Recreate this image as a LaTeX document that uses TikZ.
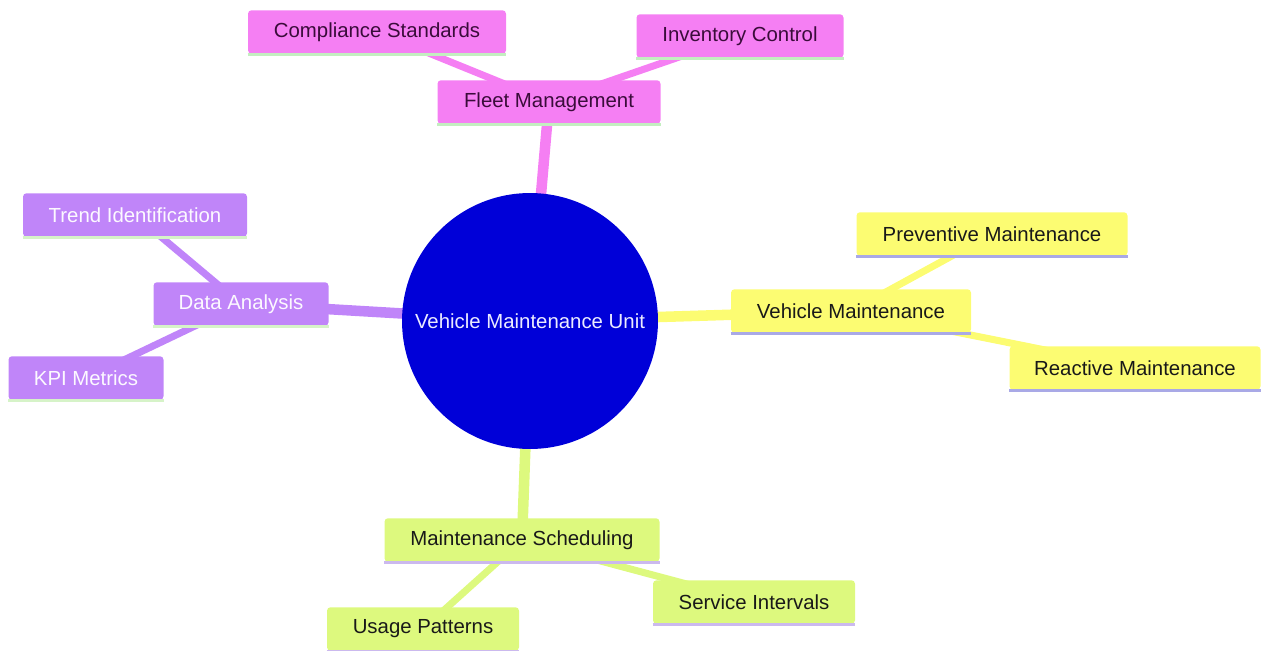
\documentclass[tikz,border=0pt]{standalone}
\usepackage{fontspec}
\setmainfont{Liberation Sans}
\usetikzlibrary{backgrounds}
\definecolor{fleetPink}{HTML}{F57FF3}
\definecolor{fleetText}{HTML}{3A0C3A}
\definecolor{fleetLine}{HTML}{C3EEC0}
\definecolor{vehYellow}{HTML}{FCFC72}
\definecolor{vehLine}{HTML}{A9A9E6}
\definecolor{schedGreen}{HTML}{DDF97E}
\definecolor{schedLine}{HTML}{CBB9EE}
\definecolor{dataPurple}{HTML}{C085F9}
\definecolor{dataLine}{HTML}{D6F3C8}
\definecolor{rootBlue}{HTML}{0000D8}

\begin{document}
\begin{tikzpicture}[x=0.02cm, y=-0.02cm, font=\fontsize{11.6}{14}\selectfont,
	box/.style={rectangle, rounded corners=2pt, inner xsep=0pt, minimum height=0.87cm},
	pinkbox/.style={box, fill=fleetPink, text=fleetText},
	yellowbox/.style={box, fill=vehYellow, text=black!90},
	greenbox/.style={box, fill=schedGreen, text=black!90},
	purplebox/.style={box, fill=dataPurple, text=white!95!dataPurple}]
	\useasboundingbox (0,0) rectangle (1261,650);
	
	\node[circle, fill=rootBlue, text=white!92!blue, minimum size=5.12cm, inner sep=0pt] (root) at (530,321) {Vehicle Maintenance Unit};
	
	\foreach \name/\x/\y/\w/\txt in {fleet/549/102/223/Fleet Management, compliance/377/32/258/Compliance Standards, inventory/740/36/207/Inventory Control} {
		\node[pinkbox, minimum width=\w*0.02cm] (\name) at (\x,\y) {\txt};
	}
	\foreach \name/\x/\y/\w/\txt in {vehicle/851/311/240/Vehicle Maintenance, preventive/992/234/271/Preventive Maintenance, reactive/1135/368/251/Reactive Maintenance} {
		\node[yellowbox, minimum width=\w*0.02cm] (\name) at (\x,\y) {\txt};
	}
	\foreach \name/\x/\y/\w/\txt in {scheduling/522/540/275/Maintenance Scheduling, service/754/602/202/Service Intervals, usage/423/629/192/Usage Patterns} {
		\node[greenbox, minimum width=\w*0.02cm] (\name) at (\x,\y) {\txt};
	}
	\foreach \name/\x/\y/\w/\txt in {analysis/241/304/175/Data Analysis, trend/135/215/224/Trend Identification, kpi/86/378/155/KPI Metrics} {
		\node[purplebox, minimum width=\w*0.02cm] (\name) at (\x,\y) {\txt};
	}
	
	% underlines
	\foreach \name/\col in {fleet/fleetLine, compliance/fleetLine, inventory/fleetLine, vehicle/vehLine, preventive/vehLine, reactive/vehLine, scheduling/schedLine, service/schedLine, usage/schedLine, analysis/dataLine, trend/dataLine, kpi/dataLine} {
		\draw[line width=1.6pt, \col] (\name.south west) -- (\name.south east);
	}
	
	% branches
	\begin{pgfonlayer}{background}
		\foreach \a/\b/\col/\lw in {root/fleet/fleetPink/6, fleet/compliance/fleetPink/4, fleet/inventory/fleetPink/4, root/vehicle/vehYellow/6, vehicle/preventive/vehYellow/4, vehicle/reactive/vehYellow/4, root/scheduling/schedGreen/6, scheduling/service/schedGreen/4, scheduling/usage/schedGreen/4, root/analysis/dataPurple/6, analysis/trend/dataPurple/4, analysis/kpi/dataPurple/4} {
			\draw[line width=\lw pt, \col] (\a.center) -- (\b.center);
		}
	\end{pgfonlayer}
\end{tikzpicture}
\end{document}
